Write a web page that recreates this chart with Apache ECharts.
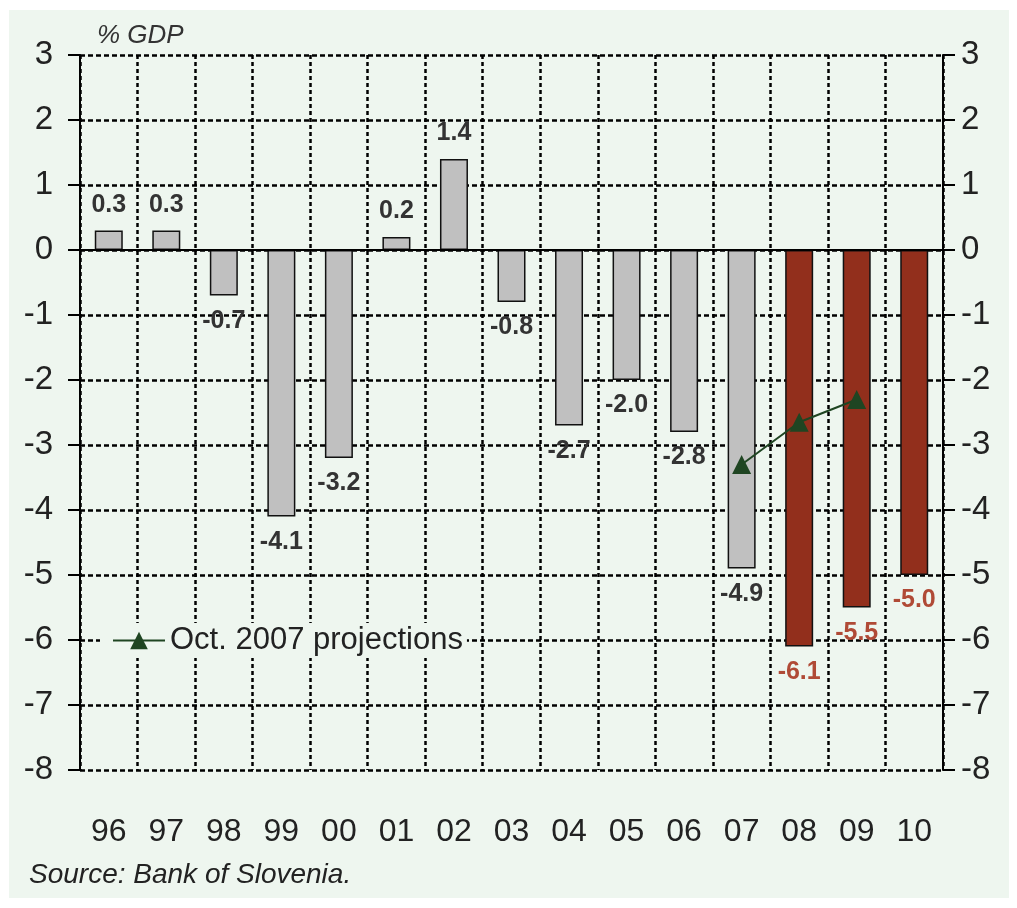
<!DOCTYPE html>
<html>
<head>
<meta charset="utf-8">
<script src="https://cdn.jsdelivr.net/npm/echarts@6.0.0/dist/echarts.min.js"></script>
<style>
html,body{margin:0;padding:0;background:#ffffff;}
#frame{position:absolute;left:9px;top:10px;width:1000px;height:888px;background:#eef6ef;}
#chart{position:absolute;left:0;top:0;width:1017px;height:908px;}
</style>
</head>
<body>
<div id="frame"></div>
<div id="chart"></div>
<script>
const categories = ['96','97','98','99','00','01','02','03','04','05','06','07','08','09','10'];
const actual    = [0.3, 0.3, -0.7, -4.1, -3.2, 0.2, 1.4, -0.8, -2.7, -2.0, -2.8, -4.9, null, null, null];
const forecast  = [null, null, null, null, null, null, null, null, null, null, null, null, -6.1, -5.5, -5.0];
const projections = [null, null, null, null, null, null, null, null, null, null, null, -3.3, -2.65, -2.3, null];
const yMin = -8, yMax = 3, yStep = 1;
const yAxisTitle = '% GDP';
const sourceText = 'Source: Bank of Slovenia.';
const legendName = 'Oct. 2007 projections';

const FONT = "'Liberation Sans Narrow', 'Arial Narrow', 'Liberation Sans', Arial, sans-serif";
const chart = echarts.init(document.getElementById('chart'), null, {renderer:'canvas'});

const yAxisCommon = {
  type: 'value', min: yMin, max: yMax, interval: yStep,
  axisLine: {show: true, lineStyle: {color: '#000', width: 2}},
  axisTick: {show: true, inside: false, length: 12, lineStyle: {color: '#000', width: 2}},
  splitLine: {show: false},
  axisLabel: {color: '#222', fontFamily: FONT, fontSize: 33}
};

const option = {
  animation: false,
  backgroundColor: 'transparent',
  textStyle: {fontFamily: FONT},
  grid: {left: 80, right: 74, top: 55, bottom: 138, containLabel: false},
  title: [
    {text: yAxisTitle, left: 92, top: 18, textStyle: {fontFamily: FONT, fontSize: 26, fontStyle: 'italic', fontWeight: 'normal', color: '#333'}},
    {text: sourceText, left: 24, top: 856, textStyle: {fontFamily: FONT, fontSize: 28, fontStyle: 'italic', fontWeight: 'normal', color: '#222'}}
  ],
  legend: {
    show: true, data: [legendName], left: 100, top: 623,
    itemWidth: 52, itemHeight: 22, itemGap: 6, padding: [2, 4, 2, 12],
    backgroundColor: '#eef6ef',
    textStyle: {fontFamily: FONT, fontSize: 31, color: '#222'}
  },
  xAxis: {
    type: 'category', data: categories, boundaryGap: true,
    axisLine: {show: false}, axisTick: {show: false},
    splitLine: {show: true, lineStyle: {color: '#000', type: [4, 3], width: 2.5}},
    axisLabel: {color: '#222', fontFamily: FONT, fontSize: 32, margin: 46, interval: 0}
  },
  yAxis: [
    Object.assign({}, yAxisCommon, {position: 'left',
      splitLine: {show: true, lineStyle: {color: '#000', type: [5, 3], width: 2.5}},
      axisLabel: Object.assign({}, yAxisCommon.axisLabel, {margin: 27})}),
    Object.assign({}, yAxisCommon, {position: 'right',
      axisLabel: Object.assign({}, yAxisCommon.axisLabel, {margin: 18})})
  ],
  series: [
    {
      name: 'actual', type: 'bar', barWidth: 28, barGap: '-100%',
      data: actual.map(v => v == null ? null : {value: v, label: {position: v < 0 ? 'bottom' : 'top'}}),
      itemStyle: {color: '#c0c0c0', borderColor: '#111', borderWidth: 1.5},
      label: {show: true, position: 'top', distance: 13, fontFamily: FONT, fontSize: 25, fontWeight: 'bold', color: '#333',
        formatter: p => p.value.toFixed(1)},
      markLine: {silent: true, symbol: 'none', label: {show: false},
        lineStyle: {color: '#000', type: 'solid', width: 2},
        data: [{yAxis: 0}]}
    },
    {
      name: 'forecast', type: 'bar', data: forecast, barWidth: 28,
      itemStyle: {color: '#922f1c', borderColor: '#111', borderWidth: 1.5},
      label: {show: true, position: 'bottom', distance: 13, fontFamily: FONT, fontSize: 25, fontWeight: 'bold', color: '#b04a36',
        formatter: p => p.value.toFixed(1)}
    },
    {
      name: legendName, type: 'line', data: projections,
      symbol: 'triangle', symbolSize: 19, connectNulls: false,
      lineStyle: {color: '#1f4522', width: 2},
      itemStyle: {color: '#1f4522'},
      z: 5
    }
  ]
};
chart.setOption(option);
</script>
</body>
</html>
